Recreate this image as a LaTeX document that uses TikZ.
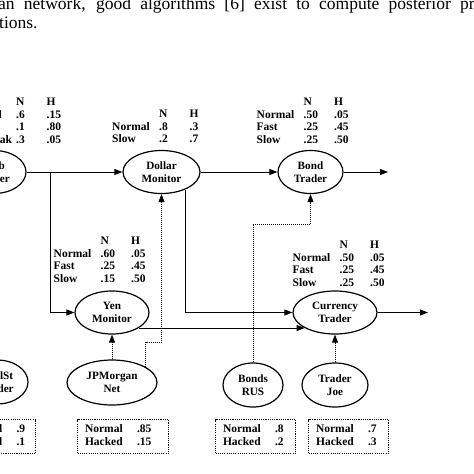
\documentclass[tikz,border=0pt]{standalone}
\usepackage{fontspec}
\setmainfont{Liberation Serif}
\usetikzlibrary{shapes.geometric,arrows.meta}

\newcommand{\statefont}{\fontsize{11.2}{12.5}\selectfont\bfseries}
\newcommand{\cptfont}{\fontsize{11.5}{12.5}\selectfont\bfseries}
\newcommand{\pagefont}{\fontsize{17.5}{20}\selectfont}

\tikzset{
  state/.style={ellipse, draw, line width=1.2pt, inner sep=0pt, align=center, font=\statefont},
  cpt/.style={anchor=base west, inner sep=0pt, font=\cptfont},
  prior/.style={anchor=north west, draw, line width=1.1pt, dash pattern=on 1.1pt off 1.1pt,
    inner xsep=7.5pt, inner ysep=0pt, minimum height=34pt, align=left, font=\cptfont},
  arr/.style={line width=0.9pt, -{Triangle[length=8pt,width=6pt]}},
  darr/.style={arr, dash pattern=on 1pt off 1pt},
}

\begin{document}
\begin{tikzpicture}[x=1pt,y=-1pt]
\useasboundingbox (0,0) rectangle (474,474);
\clip (0,0) rectangle (474,474);

% page text above the figure
\node[anchor=base west, inner sep=0pt, font=\pagefont] (line1) at (-2,9.5) {\makebox[476.5pt][s]{an network, good algorithms [6] exist to compute posterior pr}};
\node[anchor=base west, inner sep=0pt, font=\pagefont] (line2) at (-1,28.5) {tions.};

% states
\node[state, minimum width=64pt, minimum height=43pt] (web) at (-6,172) {Web\\Server};
\node[state, minimum width=77pt, minimum height=43pt] (dollar) at (161.5,172) {Dollar\\Monitor};
\node[state, minimum width=65pt, minimum height=43pt] (bond) at (310.5,172) {Bond\\Trader};
\node[state, minimum width=74pt, minimum height=43pt] (yen) at (112,312.5) {Yen\\Monitor};
\node[state, minimum width=84pt, minimum height=43pt] (currency) at (335,312.5) {Currency\\Trader};
\node[state, minimum width=62pt, minimum height=44pt] (wallst) at (-3,382) {WallSt\\Trader};
\node[state, minimum width=90pt, minimum height=45pt] (jpm) at (112,382.5) {JPMorgan\\Net};
\node[state, minimum width=60pt, minimum height=44pt] (bonds) at (253,385) {Bonds\\RUS};
\node[state, minimum width=66pt, minimum height=44pt] (joe) at (335,385) {Trader\\Joe};

% conditional tables
\node[cpt] (webcpt) at (-36,105.5) {\begin{tabular}[t]{@{}p{52pt}@{}p{30.5pt}@{}l@{}}
  & N & H\\ Normal & .6 & .15\\ Slow & .1 & .80\\ Outbreak & .3 & .05\end{tabular}};
\node[cpt] (dollarcpt) at (112,117.5) {\begin{tabular}[t]{@{}p{47pt}@{}p{30.5pt}@{}l@{}}
  & N & H\\ Normal & .8 & .3\\ Slow & .2 & .7\end{tabular}};
\node[cpt] (bondcpt) at (256.5,105.5) {\begin{tabular}[t]{@{}p{47pt}@{}p{30.5pt}@{}l@{}}
  & N & H\\ Normal & .50 & .05\\ Fast & .25 & .45\\ Slow & .25 & .50\end{tabular}};
\node[cpt] (yencpt) at (53.5,244.5) {\begin{tabular}[t]{@{}p{47pt}@{}p{30.5pt}@{}l@{}}
  & N & H\\ Normal & .60 & .05\\ Fast & .25 & .45\\ Slow & .15 & .50\end{tabular}};
\node[cpt] (currencycpt) at (292.5,248.5) {\begin{tabular}[t]{@{}p{47pt}@{}p{30.5pt}@{}l@{}}
  & N & H\\ Normal & .50 & .05\\ Fast & .25 & .45\\ Slow & .25 & .50\end{tabular}};

% prior boxes
\node[prior, text width=63.5pt] (wallbox) at (-43.5,419) {\begin{tabular}{@{}p{52pt}@{}l@{}}Normal & .9\\ Hacked & .1\end{tabular}};
\node[prior, text width=76pt] (jpmbox) at (77,419) {\begin{tabular}{@{}p{52pt}@{}l@{}}Normal & .85\\ Hacked & .15\end{tabular}};
\node[prior, text width=65pt] (bondsbox) at (215,419) {\begin{tabular}{@{}p{52pt}@{}l@{}}Normal & .8\\ Hacked & .2\end{tabular}};
\node[prior, text width=65pt] (joebox) at (308,419) {\begin{tabular}{@{}p{52pt}@{}l@{}}Normal & .7\\ Hacked & .3\end{tabular}};

% bends and free ends
\coordinate (webfork) at (50,172);
\coordinate (bondout) at (388,172);
\coordinate (curout) at (428,312.5);
\coordinate (jpmbend) at (161.5,342);
\coordinate (bondsbend) at (310.5,224);
\path (yen.-30) coordinate (yenout);

% connectors
\draw[arr] (web.east) -- (dollar.west);
\draw[arr] (webfork) |- (yen.west);
\draw[arr] (dollar.east) -- (bond.west);
\draw[arr] (bond.east) -- (bondout);
\draw[arr] (dollar.-37) |- (currency.west);
\draw[arr] (yenout) -- (yenout -| currency.207);
\draw[arr] (currency.east) -- (curout);
\draw[darr] (jpm.north) -- (yen.south);
\draw[darr] (jpm.25) |- (jpmbend) -- (dollar.south);
\draw[darr] (bonds.north) |- (bondsbend) -- (bond.south);
\draw[darr] (joe.north) -- (currency.south);
\end{tikzpicture}
\end{document}
